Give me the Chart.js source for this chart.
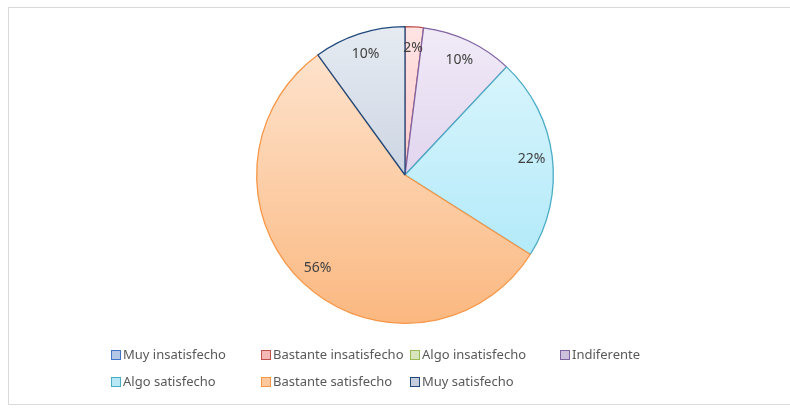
<!DOCTYPE html>
<html>
<head>
<meta charset="utf-8">
<script src="https://cdn.jsdelivr.net/npm/chart.js@4/dist/chart.umd.min.js"></script>
<style>
    html, body { margin: 0; padding: 0; background: #ffffff; }
    #wrap { width: 790px; height: 409px; position: relative; }
</style>
</head>
<body>
<div id="wrap"><canvas id="myPieChart"></canvas></div>
<script>
var categorias = ['Muy insatisfecho', 'Bastante insatisfecho', 'Algo insatisfecho', 'Indiferente',
    'Algo satisfecho', 'Bastante satisfecho', 'Muy satisfecho'];
var porcentajes = [0, 2, 0, 10, 22, 56, 10];

// colores: borde, degradado arriba, degradado abajo, relleno de la leyenda
var bordes = ['#4472c4', '#c0504d', '#9bbb59', '#8064a2', '#4bacc6', '#f79646', '#1f497d'];
var arriba = ['#dbe5f7', '#ffe3e3', '#eaf1dc', '#f1ebf7', '#e0f7fd', '#fee7d4', '#e6ebf2'];
var abajo = ['#a9c0ea', '#f7b2b1', '#cfe1a9', '#d1c0e6', '#a6e6f8', '#fbb880', '#b4c0d4'];
var cajas = ['#b4c7e7', '#f4b8b7', '#d7e4bd', '#ccc0da', '#b7e8f5', '#fcc89c', '#c5cddd'];

function degradado(context) {
    const chart = context.chart;
    const area = chart.chartArea;
    const i = context.dataIndex;
    if (!area) return cajas[i];
    const g = chart.ctx.createLinearGradient(0, area.top, 0, area.bottom);
    g.addColorStop(0, arriba[i]);
    g.addColorStop(1, abajo[i]);
    return g;
}

// marco gris y fondo blanco
const marco = {
    id: 'marco',
    beforeDraw(chart) {
        const c = chart.ctx;
        c.save();
        c.fillStyle = '#ffffff';
        c.fillRect(0, 0, chart.width, chart.height);
        c.strokeStyle = '#d9d9d9';
        c.lineWidth = 1;
        c.strokeRect(8.5, 7.5, 790, 397);
        c.restore();
    }
};

// etiquetas de porcentaje dentro de los sectores
const etiquetas = {
    id: 'etiquetas',
    afterDatasetsDraw(chart) {
        const c = chart.ctx;
        const meta = chart.getDatasetMeta(0);
        c.save();
        c.font = '14px "Noto Sans"';
        c.fillStyle = '#404040';
        c.textAlign = 'center';
        c.textBaseline = 'middle';
        meta.data.forEach((arc, i) => {
            if (!porcentajes[i]) return;
            const p = arc.getProps(['x', 'y', 'startAngle', 'endAngle', 'outerRadius'], true);
            const mid = (p.startAngle + p.endAngle) / 2;
            const r = p.outerRadius * 0.86;
            c.fillText(porcentajes[i] + '%', p.x + Math.cos(mid) * r, p.y + Math.sin(mid) * r);
        });
        c.restore();
    }
};

// leyenda en rejilla de 4 columnas
const leyenda = {
    id: 'leyenda',
    afterDraw(chart) {
        const c = chart.ctx;
        const cols = [111, 261, 410, 560];
        const filas = [355, 382];
        c.save();
        c.font = '13px "Noto Sans"';
        c.textBaseline = 'middle';
        categorias.forEach((cat, i) => {
            const x = cols[i % 4];
            const y = filas[Math.floor(i / 4)];
            c.fillStyle = cajas[i];
            c.fillRect(x, y - 5, 10, 10);
            c.strokeStyle = bordes[i];
            c.lineWidth = 1;
            c.strokeRect(x + 0.5, y - 4.5, 9, 9);
            c.fillStyle = '#595959';
            c.fillText(cat, x + 12, y);
        });
        c.restore();
    }
};

new Chart(document.getElementById('myPieChart').getContext('2d'), {
    type: 'pie',
    data: {
        labels: categorias,
        datasets: [{
            data: porcentajes,
            backgroundColor: degradado,
            borderColor: bordes,
            borderWidth: 1.3
        }]
    },
    options: {
        responsive: true,
        maintainAspectRatio: false,
        animation: false,
        layout: { padding: { top: 26, bottom: 85, left: 20, right: 0 } },
        plugins: {
            legend: { display: false },
            tooltip: { enabled: false }
        }
    },
    plugins: [marco, etiquetas, leyenda]
});
</script>
</body>
</html>
